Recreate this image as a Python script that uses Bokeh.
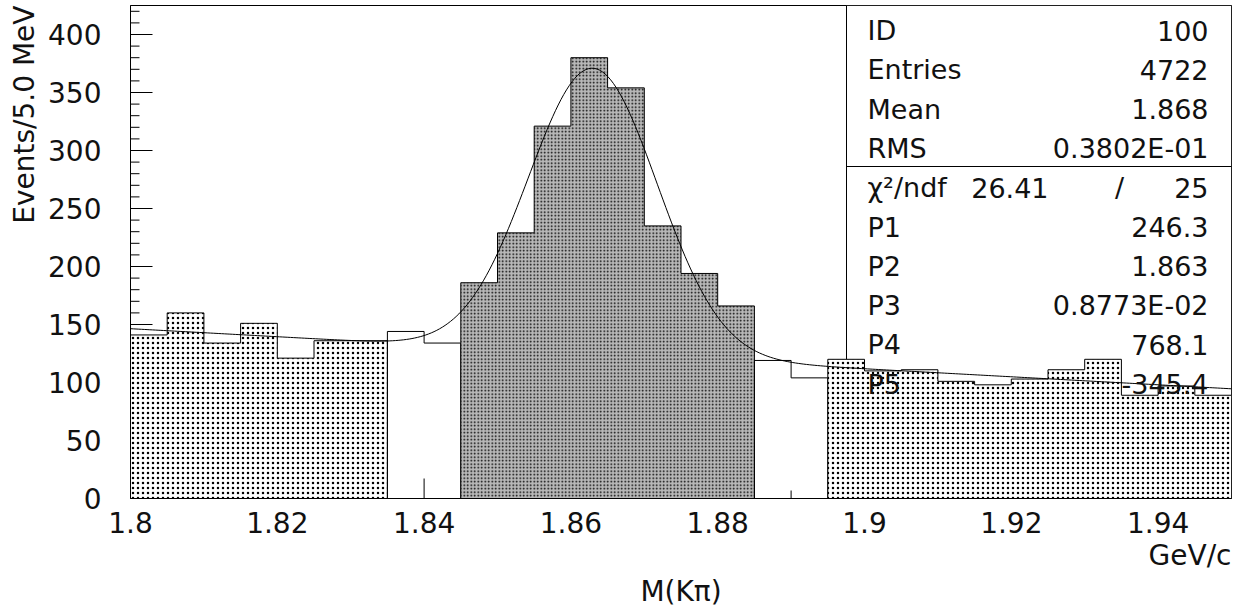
import numpy as np
from bokeh.plotting import figure
from bokeh.models import FixedTicker, Title, ColumnDataSource
from bokeh.core.properties import value
from bokeh.embed import file_html
from bokeh.resources import INLINE

# ---------------- data ----------------
x_start = 1.80
x_end = 1.95
bin_width = 0.005
counts = [141, 160, 134, 151, 121, 136, 136, 144, 134, 186,
          229, 321, 380, 354, 235, 194, 166, 119, 104, 120,
          110, 111, 101, 98, 103, 111, 120, 89, 97, 89]
region_edges = [1.800, 1.835, 1.845, 1.885, 1.895, 1.950]
region_kind = ["side", "gap", "signal", "gap", "side"]

fit_params = [246.3, 1.863, 0.8773e-02, 768.1, -345.4]   # P1..P5

x_ticks = [1.80, 1.82, 1.84, 1.86, 1.88, 1.90, 1.92, 1.94]
x_tick_labels = ["1.8", "1.82", "1.84", "1.86", "1.88", "1.9", "1.92", "1.94"]
x_minor_ticks = [1.81, 1.83, 1.85, 1.87, 1.89, 1.91, 1.93]
y_ticks = [0, 50, 100, 150, 200, 250, 300, 350, 400]
y_minor_ticks = [10, 20, 30, 40, 60, 70, 80, 90, 110, 120, 130, 140, 160, 170, 180, 190,
                 210, 220, 230, 240, 260, 270, 280, 290, 310, 320, 330, 340, 360, 370, 380, 390, 410, 420]

stats_labels = ["ID", "Entries", "Mean", "RMS", "χ²/ndf", "P1", "P2", "P3", "P4", "P5"]
stats_values = ["100", "4722", "1.868", "0.3802E-01", "25", "246.3", "1.863", "0.8773E-02", "768.1", "-345.4"]
chi2_value = "26.41"

y_title = "Events/5.0 MeV"
x_title = "M(Kπ)"
x_unit = "GeV/c"

# ---------------- layout helpers (pixel -> data) ----------------
FL, FR, FT, FB = 129, 1230, 5, 498
Y_PER_PX = 1.16
y_top = (FB - FT) / Y_PER_PX


def px_x(px):
    return x_start + (px - FL) / (FR - FL) * (x_end - x_start)


def px_y(py):
    return (FB - py) / Y_PER_PX


def dx(npx):
    return npx / (FR - FL) * (x_end - x_start)


FONT = "DejaVu Sans"
INK = "#111111"

p = figure(frame_width=FR - FL, frame_height=FB - FT,
           x_range=(x_start, x_end), y_range=(0, y_top),
           output_backend="svg", toolbar_location=None,
           min_border_left=FL, min_border_right=8,
           min_border_top=FT, min_border_bottom=100)
p.grid.visible = False
p.outline_line_color = "black"
p.outline_line_width = 1
p.background_fill_color = "white"
p.border_fill_color = "white"

# axes (labels only; ticks drawn below the histogram as glyphs)
p.xaxis.ticker = FixedTicker(ticks=x_ticks, minor_ticks=x_minor_ticks)
p.xaxis.major_label_overrides = {t: l for t, l in zip(x_ticks, x_tick_labels)}
p.yaxis.ticker = FixedTicker(ticks=y_ticks, minor_ticks=y_minor_ticks)
for ax in (p.xaxis[0], p.yaxis[0]):
    ax.axis_line_color = "black"
    ax.major_tick_in = 0
    ax.major_tick_out = 0
    ax.minor_tick_in = 0
    ax.minor_tick_out = 0
    ax.major_label_text_font = FONT
    ax.major_label_text_font_size = "28px"
    ax.major_label_text_color = INK
p.xaxis.major_label_standoff = 13
p.yaxis.major_label_standoff = 29

# inner ticks (drawn under the histogram fill)
tick_kw = dict(line_color="black", line_width=1)
p.segment(x0=[x_start] * len(y_ticks), x1=[x_start + dx(22)] * len(y_ticks),
          y0=y_ticks, y1=y_ticks, **tick_kw)
p.segment(x0=[x_start] * len(y_minor_ticks), x1=[x_start + dx(9)] * len(y_minor_ticks),
          y0=y_minor_ticks, y1=y_minor_ticks, **tick_kw)
p.segment(x0=x_ticks, x1=x_ticks, y0=[0] * len(x_ticks),
          y1=[20 / Y_PER_PX] * len(x_ticks), **tick_kw)
p.segment(x0=x_minor_ticks, x1=x_minor_ticks, y0=[0] * len(x_minor_ticks),
          y1=[8 / Y_PER_PX] * len(x_minor_ticks), **tick_kw)

# statistics box (under the histogram)
p.quad(left=[px_x(845)], right=[x_end], top=[y_top], bottom=[px_y(398)],
       fill_color="white", line_color="black", line_width=1)
p.segment(x0=[px_x(845)], x1=[x_end], y0=[px_y(166)], y1=[px_y(166)],
          line_color="black", line_width=1)

# histogram regions
styles = {
    "side": dict(fill_color="white", hatch_pattern="dot", hatch_scale=5,
                 hatch_weight=1.3, hatch_color="black"),
    "signal": dict(fill_color="#b8b8b8", hatch_pattern="dot", hatch_scale=3.5,
                   hatch_weight=1.3, hatch_color="black"),
    "gap": dict(fill_color=None),
}
n_bins = len(counts)
edges = [x_start + bin_width * i for i in range(n_bins + 1)]
for a, b, kind in zip(region_edges[:-1], region_edges[1:], region_kind):
    i0 = int(round((a - x_start) / bin_width))
    i1 = int(round((b - x_start) / bin_width))
    xs, ys = [edges[i0]], [0]
    for i in range(i0, i1):
        xs += [edges[i], edges[i + 1]]
        ys += [counts[i], counts[i]]
    xs.append(edges[i1])
    ys.append(0)
    p.patch(xs, ys, line_color="black", line_width=1, **styles[kind])

# fit curve: gaussian + linear background with the fitted parameters
P1, P2, P3, P4, P5 = fit_params
xf = np.linspace(x_start, x_end, 400)
yf = P1 * np.exp(-0.5 * ((xf - P2) / P3) ** 2) + P4 + P5 * xf
p.line(xf, yf, line_color="black", line_width=1)

# statistics text
row0, row_step = 30, 39.3
rows_y = [px_y(row0 + row_step * k) for k in range(len(stats_labels))]
src_l = ColumnDataSource(dict(x=[px_x(866)] * len(stats_labels), y=rows_y, t=stats_labels))
src_r = ColumnDataSource(dict(x=[px_x(1207)] * len(stats_values), y=rows_y, t=stats_values))
common = dict(text_font=value(FONT), text_font_size="27px", text_color=INK,
              text_baseline="alphabetic")
p.text(x="x", y="y", text="t", source=src_l, text_align="left", **common)
p.text(x="x", y="y", text="t", source=src_r, text_align="right", **common)
p.text(x=[px_x(1047)], y=[rows_y[4]], text=[chi2_value], text_align="right", **common)
p.text(x=[px_x(1118)], y=[rows_y[4]], text=["/"], text_align="center", **common)

# axis titles as side-panel titles
title_kw = dict(text_font=FONT, text_font_size="28px", text_font_style="normal",
                text_color=INK)
p.add_layout(Title(text=y_title, align="right", **title_kw), "left")
p.add_layout(Title(text=x_unit, align="right", standoff=2, **title_kw), "below")
p.add_layout(Title(text=x_title, align="center", standoff=0, **title_kw), "below")

open("out.html", "w").write(file_html(p, INLINE))
